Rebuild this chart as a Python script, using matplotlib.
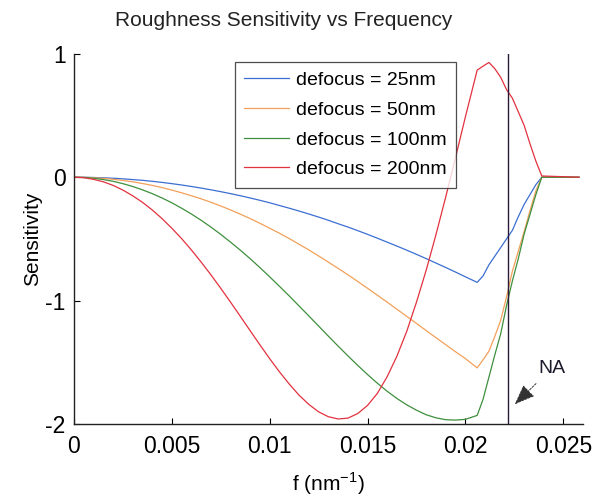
import matplotlib
matplotlib.use("Agg")
import matplotlib.pyplot as plt

# ---- data ----
freq = [0.0, 0.0005, 0.001, 0.0015, 0.002, 0.0025, 0.003, 0.0035, 0.004, 0.0045,
        0.005, 0.0055, 0.006, 0.0065, 0.007, 0.0075, 0.008, 0.0085, 0.009, 0.0095,
        0.010, 0.0105, 0.011, 0.0115, 0.012, 0.0125, 0.013, 0.0135, 0.014, 0.0145,
        0.015, 0.0155, 0.016, 0.0165, 0.017, 0.0175, 0.018, 0.0185, 0.019, 0.0195,
        0.020, 0.0206, 0.0209, 0.0212, 0.0215, 0.0218, 0.0221, 0.0224, 0.0227,
        0.0230, 0.0233, 0.0236, 0.0239, 0.0258]

sens_25 = [0.0, 0.0, -0.002, -0.005, -0.008, -0.013, -0.019, -0.025, -0.033, -0.042,
           -0.052, -0.063, -0.075, -0.088, -0.102, -0.117, -0.133, -0.150, -0.168, -0.187,
           -0.207, -0.229, -0.251, -0.274, -0.298, -0.323, -0.349, -0.377, -0.404, -0.433,
           -0.463, -0.494, -0.526, -0.558, -0.591, -0.625, -0.660, -0.696, -0.732, -0.769,
           -0.807, -0.852, -0.80, -0.71, -0.64, -0.57, -0.50, -0.43, -0.32,
           -0.22, -0.14, -0.06, 0.0, 0.0]

sens_50 = [0.0, -0.001, -0.004, -0.009, -0.017, -0.026, -0.037, -0.051, -0.066, -0.084,
           -0.104, -0.126, -0.150, -0.175, -0.203, -0.233, -0.265, -0.299, -0.335, -0.373,
           -0.413, -0.454, -0.497, -0.543, -0.589, -0.638, -0.688, -0.739, -0.791, -0.845,
           -0.900, -0.956, -1.012, -1.070, -1.127, -1.185, -1.243, -1.301, -1.358, -1.415,
           -1.470, -1.545, -1.48, -1.41, -1.29, -1.16, -0.97, -0.76, -0.60,
           -0.44, -0.27, -0.11, 0.0, 0.0]

sens_100 = [0.0, -0.002, -0.008, -0.019, -0.033, -0.052, -0.075, -0.102, -0.133, -0.168,
            -0.207, -0.251, -0.298, -0.349, -0.404, -0.463, -0.526, -0.591, -0.660, -0.732,
            -0.807, -0.884, -0.962, -1.043, -1.124, -1.206, -1.288, -1.369, -1.448, -1.525,
            -1.599, -1.669, -1.734, -1.793, -1.844, -1.888, -1.925, -1.950, -1.965, -1.968,
            -1.962, -1.93, -1.80, -1.62, -1.44, -1.27, -1.04, -0.84, -0.66,
            -0.46, -0.30, -0.14, 0.0, 0.0]

sens_200 = [0.0, -0.004, -0.017, -0.037, -0.066, -0.104, -0.150, -0.203, -0.265, -0.335,
            -0.413, -0.497, -0.589, -0.688, -0.791, -0.900, -1.012, -1.127, -1.243, -1.358,
            -1.470, -1.577, -1.676, -1.766, -1.841, -1.901, -1.941, -1.959, -1.952, -1.915,
            -1.849, -1.752, -1.617, -1.450, -1.250, -1.012, -0.751, -0.462, -0.156, 0.164,
            0.490, 0.868, 0.90, 0.93, 0.88, 0.81, 0.71, 0.64, 0.53,
            0.42, 0.27, 0.13, 0.01, 0.0]

labels = ["defocus = 25nm", "defocus = 50nm", "defocus = 100nm", "defocus = 200nm"]
colors = ["#3c6fd2", "#f2a05a", "#3e8f3e", "#e2323f"]

na_freq = 0.0222
xticks = [0, 0.005, 0.01, 0.015, 0.02, 0.025]
xticklabels = ["0", "0.005", "0.01", "0.015", "0.02", "0.025"]
yticks = [-2, -1, 0, 1]
yticklabels = ["-2", "-1", "0", "1"]

plt.rcParams['font.family'] = ['Liberation Sans', 'DejaVu Sans']

fig = plt.figure(figsize=(5.96, 5.03), dpi=100)
ax = fig.add_axes([0.124, 0.157, 0.854, 0.736])

for ys, lab, c in zip([sens_25, sens_50, sens_100, sens_200], labels, colors):
    ax.plot(freq, ys, color=c, lw=0.9, label=lab)

ax.plot([na_freq, na_freq], [-2, 1], color="#2a1a38", lw=1.0)

ax.annotate("NA", xy=(0.02252, -1.84), xytext=(0.0244, -1.55),
            fontsize=14, ha="center", va="center", color="#1a1a2a",
            arrowprops=dict(arrowstyle="-|>,head_length=0.9,head_width=0.35",
                            color="#333333", lw=0.7, ls=(0, (2, 1.5)),
                            shrinkA=4, shrinkB=0))

ax.set_xlim(0, 0.026)
ax.set_ylim(-2, 1)
ax.set_xticks(xticks)
ax.set_xticklabels(xticklabels)
ax.set_yticks(yticks)
ax.set_yticklabels(yticklabels)
ax.tick_params(direction="in", length=4, width=0.8, labelsize=16.5, pad=8)
ax.tick_params(axis="y", pad=6)
for s in ["top", "right"]:
    ax.spines[s].set_visible(False)
for s in ["left", "bottom"]:
    ax.spines[s].set_linewidth(1.0)
    ax.spines[s].set_color("#222222")

ax.set_xlabel("f (nm$^{\\mathregular{-1}}$)", fontsize=15, labelpad=9)
ax.set_ylabel("Sensitivity", fontsize=15, labelpad=2)

leg = ax.legend(loc="upper left", bbox_to_anchor=(0.316, 0.978), fontsize=14,
                frameon=True, fancybox=False, edgecolor="#222222",
                handlelength=2.3, handletextpad=0.35, labelspacing=0.62,
                borderpad=0.5, borderaxespad=0)
leg.get_frame().set_linewidth(0.9)

fig.text(284 / 596, 1 - 20 / 503, "Roughness Sensitivity vs Frequency",
         ha="center", va="center", fontsize=15, color="#222222")

fig.savefig("out.png", dpi=100)
